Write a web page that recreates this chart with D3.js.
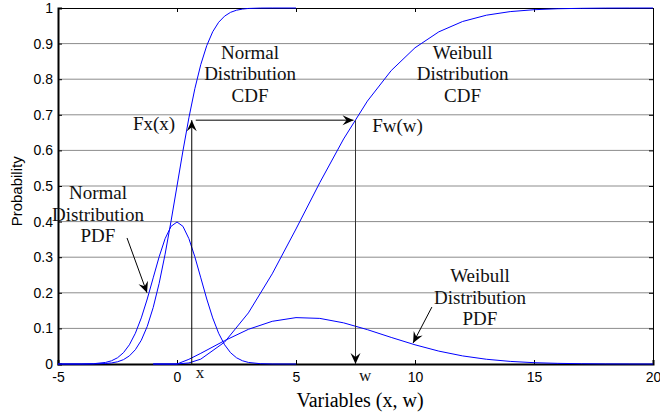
<!DOCTYPE html>
<html>
<head>
<meta charset="utf-8">
<script src="https://cdn.jsdelivr.net/npm/d3@7"></script>
<style>
  body { margin: 0; background: #fff; }
  svg { display: block; }
</style>
</head>
<body>
<svg width="660" height="417"></svg>
<script>
// values
const normalX   = [-5, -4, -3.5, -3, -2.75, -2.5, -2.25, -2, -1.75, -1.5, -1.25, -1, -0.75, -0.5, -0.25, 0,
                   0.25, 0.5, 0.75, 1, 1.25, 1.5, 1.75, 2, 2.25, 2.5, 2.75, 3, 3.5, 4, 5];
const normalPdf = [0, 0.0001, 0.0009, 0.0044, 0.0091, 0.0175, 0.0317, 0.054, 0.0863, 0.1295, 0.1826, 0.242, 0.3011, 0.3521, 0.3867, 0.3989,
                   0.3867, 0.3521, 0.3011, 0.242, 0.1826, 0.1295, 0.0863, 0.054, 0.0317, 0.0175, 0.0091, 0.0044, 0.0009, 0.0001, 0];
const normalCdf = [0, 0, 0.0002, 0.0013, 0.003, 0.0062, 0.0122, 0.0228, 0.0401, 0.0668, 0.1056, 0.1587, 0.2266, 0.3085, 0.4013, 0.5,
                   0.5987, 0.6915, 0.7734, 0.8413, 0.8944, 0.9332, 0.9599, 0.9772, 0.9878, 0.9938, 0.997, 0.9987, 0.9998, 1, 1];

const weibullX   = [-1, 0, 0.5, 1, 2, 3, 4, 5, 6, 7, 8, 9, 10, 11, 12, 13, 14, 15, 16, 17, 18, 19, 20];
const weibullPdf = [0, 0, 0.0132, 0.03, 0.0656, 0.0974, 0.1199, 0.1303, 0.1281, 0.1156, 0.0965, 0.0747, 0.0539,
                    0.0362, 0.0227, 0.0133, 0.0073, 0.0037, 0.0018, 0.0008, 0.0003, 0.0001, 0];
const weibullCdf = [0, 0, 0.003, 0.0137, 0.0615, 0.1436, 0.2532, 0.3793, 0.5095, 0.6321, 0.7385, 0.8242, 0.8883,
                    0.933, 0.9621, 0.9798, 0.9899, 0.9952, 0.9979, 0.9991, 0.9997, 0.9999, 1];

const xTicks = [-5, 0, 5, 10, 15, 20];
const yTicks = [0, 0.1, 0.2, 0.3, 0.4, 0.5, 0.6, 0.7, 0.8, 0.9, 1];

// the mapping x -> F -> w
const xMark = 0.62, wMark = 7.5, probMark = 0.685;

let svg = d3.select("svg"),
    width = +svg.attr("width"),
    height = +svg.attr("height"),
    margin = {top: 8, right: 7, bottom: 53, left: 58};

let x = d3.scaleLinear().domain([-5, 20]).range([margin.left, width - margin.right]);
let y = d3.scaleLinear().domain([0, 1]).range([height - margin.bottom, margin.top]);

let defs = svg.append("defs");
defs.append("marker")
    .attr("id", "head")
    .attr("viewBox", "-12 -6 14 12")
    .attr("markerWidth", 14)
    .attr("markerHeight", 12)
    .attr("markerUnits", "userSpaceOnUse")
    .attr("orient", "auto")
    .append("path")
    .attr("d", "M0,0 L-11,-5 L-7,0 L-11,5 Z")
    .attr("fill", "#000");

// grid
svg.append("g")
    .selectAll("line")
    .data(yTicks.filter(d => d > 0 && d < 1))
    .join("line")
    .attr("x1", x(-5)).attr("x2", x(20))
    .attr("y1", d => y(d)).attr("y2", d => y(d))
    .attr("stroke", "#8c8c8c")
    .attr("stroke-width", 1);

// axes
let xAxis = svg.append("g")
    .attr("transform", `translate(0,${y(0)})`)
    .call(d3.axisBottom(x).tickValues(xTicks).tickSize(-4).tickPadding(8).tickFormat(d => String(d)));
let yAxis = svg.append("g")
    .attr("transform", `translate(${x(-5)},0)`)
    .call(d3.axisLeft(y).tickValues(yTicks).tickSize(-4).tickPadding(5).tickFormat(d => d === 0 || d === 1 ? d : d3.format(".1f")(d)));
svg.append("g")
    .attr("transform", `translate(0,${y(1)})`)
    .call(d3.axisTop(x).tickValues(xTicks).tickSize(-4).tickFormat(""));
svg.append("g")
    .attr("transform", `translate(${x(20)},0)`)
    .call(d3.axisRight(y).tickValues(yTicks).tickSize(-4).tickFormat(""));

svg.selectAll(".domain").attr("stroke", "#000");
[xAxis, yAxis].forEach(a => a.select(".domain").attr("stroke-width", 2));
svg.selectAll(".tick text")
    .attr("font-family", "Liberation Sans, Arial, sans-serif")
    .attr("font-size", 14)
    .attr("fill", "#000");

// curves
let line = d3.line().x(d => x(d[0])).y(d => y(d[1]));
let curves = [
    normalX.map((v, i) => [v, normalPdf[i]]),
    normalX.map((v, i) => [v, normalCdf[i]]),
    weibullX.map((v, i) => [v, weibullPdf[i]]),
    weibullX.map((v, i) => [v, weibullCdf[i]])
];
svg.append("g")
    .selectAll("path")
    .data(curves)
    .join("path")
    .attr("fill", "none")
    .attr("stroke", "#0000ff")
    .attr("stroke-width", 1)
    .attr("d", line);

// x -> Fx(x) -> Fw(w) -> w arrows
svg.append("line")
    .attr("x1", x(xMark)).attr("y1", y(0))
    .attr("x2", x(xMark)).attr("y2", y(probMark))
    .attr("stroke", "#000").attr("stroke-width", 1)
    .attr("marker-end", "url(#head)");
svg.append("line")
    .attr("x1", x(xMark) + 4).attr("y1", y(probMark))
    .attr("x2", x(wMark) - 2).attr("y2", y(probMark))
    .attr("stroke", "#555").attr("stroke-width", 1.5)
    .attr("marker-end", "url(#head)");
svg.append("line")
    .attr("x1", x(wMark)).attr("y1", y(probMark))
    .attr("x2", x(wMark)).attr("y2", y(0))
    .attr("stroke", "#333").attr("stroke-width", 1)
    .attr("marker-end", "url(#head)");

// annotation arrows
let pointers = [
    [[-2.1, 0.354], [-1.26, 0.2]],
    [[10.71, 0.16], [9.92, 0.059]]
];
svg.append("g")
    .selectAll("line")
    .data(pointers)
    .join("line")
    .attr("x1", d => x(d[0][0])).attr("y1", d => y(d[0][1]))
    .attr("x2", d => x(d[1][0])).attr("y2", d => y(d[1][1]))
    .attr("stroke", "#000").attr("stroke-width", 1)
    .attr("marker-end", "url(#head)");

// text labels
let labels = [
    {x: 3.07, y: 0.874, lines: ["Normal", "Distribution", "CDF"]},
    {x: 12.0, y: 0.874, lines: ["Weibull", "Distribution", "CDF"]},
    {x: -3.32, y: 0.48, lines: ["Normal", "Distribution", "PDF"]},
    {x: 12.73, y: 0.247, lines: ["Weibull", "Distribution", "PDF"]}
];
let serif = "Liberation Serif, Times New Roman, serif";
svg.append("g")
    .selectAll("text")
    .data(labels)
    .join("text")
    .attr("text-anchor", "middle")
    .attr("font-family", serif)
    .attr("font-size", 19)
    .attr("fill", "#111")
    .each(function(d) {
        d3.select(this).selectAll("tspan")
            .data(d.lines)
            .join("tspan")
            .attr("x", x(d.x))
            .attr("y", (t, i) => y(d.y) + 6 + i * 21.5)
            .text(t => t);
    });

svg.append("text")
    .attr("x", x(-1.85)).attr("y", y(0.657))
    .attr("font-family", serif).attr("font-size", 19).attr("fill", "#111")
    .text("Fx(x)");
svg.append("text")
    .attr("x", x(8.2)).attr("y", y(0.652))
    .attr("font-family", serif).attr("font-size", 19).attr("fill", "#111")
    .text("Fw(w)");
svg.append("text")
    .attr("x", x(0.97)).attr("y", y(0) + 14)
    .attr("text-anchor", "middle")
    .attr("font-family", serif).attr("font-size", 17).attr("fill", "#111")
    .text("x");
svg.append("text")
    .attr("x", x(7.9)).attr("y", y(0) + 17)
    .attr("text-anchor", "middle")
    .attr("font-family", serif).attr("font-size", 17).attr("fill", "#111")
    .text("w");

// axis titles
svg.append("text")
    .attr("x", 360).attr("y", height - 10)
    .attr("text-anchor", "middle")
    .attr("font-family", serif).attr("font-size", 20).attr("fill", "#000")
    .text("Variables (x, w)");
svg.append("text")
    .attr("transform", `translate(22,${y(0.485)}) rotate(-90)`)
    .attr("text-anchor", "middle")
    .attr("font-family", "Liberation Sans, Arial, sans-serif")
    .attr("font-size", 15).attr("fill", "#000")
    .text("Probability");
</script>
</body>
</html>
